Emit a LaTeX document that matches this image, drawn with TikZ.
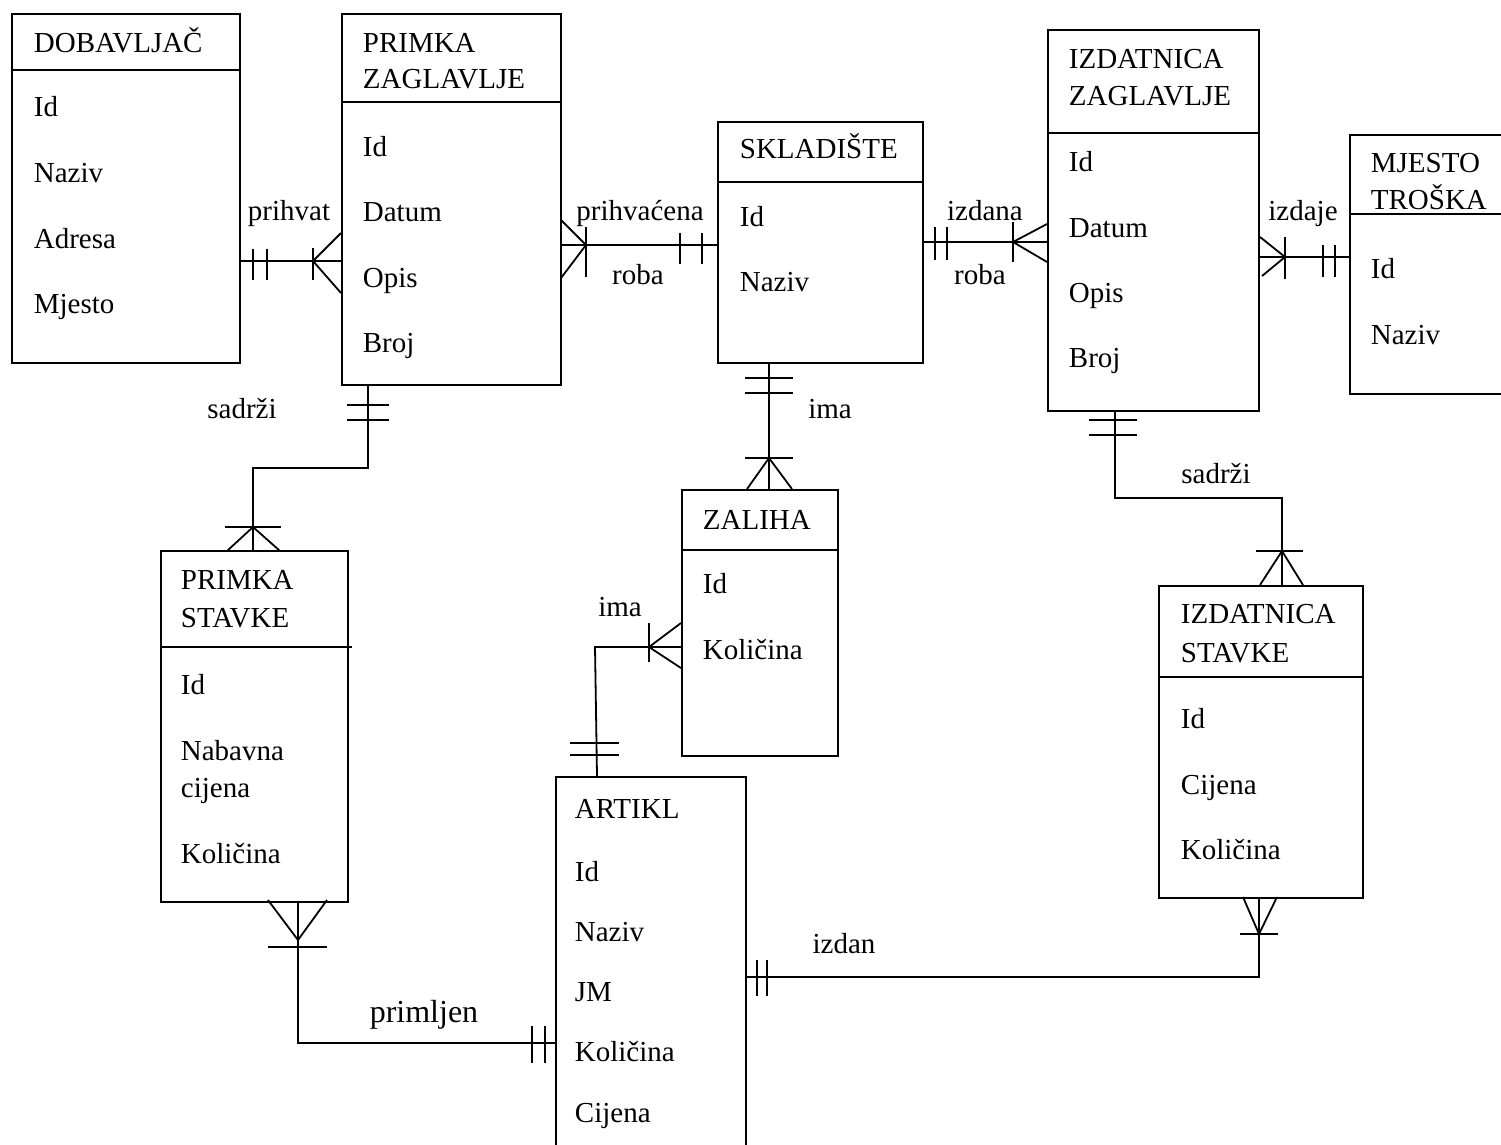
\documentclass[tikz,border=0pt]{standalone}
\usepackage{fontspec}
\setmainfont{Liberation Serif}
\begin{document}
\begin{tikzpicture}[x=1pt,y=-1pt,line width=1.8pt]
\tikzset{
 ent/.style={draw, inner sep=0pt, anchor=north west, line width=1.8pt},
 lab/.style={anchor=base west, inner sep=0pt, font=\fontsize{29}{35}\selectfont},
 rel/.style={anchor=base, inner sep=0pt, font=\fontsize{29}{35}\selectfont},
}
\useasboundingbox (0,0) rectangle (1501,1144);
\fill[white] (0,0) rectangle (1501,1144);
\clip (0,0) rectangle (1501,1144);

% entities
\node[ent, minimum width=228pt, minimum height=349pt] (dob) at (11,13) {};
\node[ent, minimum width=219pt, minimum height=371pt] (pz) at (341,13) {};
\node[ent, minimum width=205pt, minimum height=241pt] (skl) at (717,121) {};
\node[ent, minimum width=211pt, minimum height=381pt] (iz) at (1047,29) {};
\node[ent, minimum width=220pt, minimum height=259pt] (mt) at (1349,134) {};
\node[ent, minimum width=156pt, minimum height=266pt] (zal) at (681,489) {};
\node[ent, minimum width=187pt, minimum height=351pt] (ps) at (160,550) {};
\node[ent, minimum width=190pt, minimum height=420pt] (art) at (555,776) {};
\node[ent, minimum width=204pt, minimum height=312pt] (is) at (1158,585) {};

% header lines
\draw (dob.west |- 0,70) -- (dob.east |- 0,70);
\draw (pz.west |- 0,102) -- (pz.east |- 0,102);
\draw (skl.west |- 0,182) -- (skl.east |- 0,182);
\draw (iz.west |- 0,133) -- (iz.east |- 0,133);
\draw (mt.west |- 0,214) -- (mt.east |- 0,214);
\draw (zal.west |- 0,550) -- (zal.east |- 0,550);
\draw (ps.west |- 0,647) -- (352,647);
\draw (is.west |- 0,677) -- (is.east |- 0,677);

% texts
\node[lab] (dob0) at (33,52) {DOBAVLJAČ};
\node[lab] (dob1) at (33,116) {Id};
\node[lab] (dob2) at (33,182) {Naziv};
\node[lab] (dob3) at (33,248) {Adresa};
\node[lab] (dob4) at (33,313) {Mjesto};

\node[lab] (pz0) at (362,52) {PRIMKA};
\node[lab] (pz0b) at (362,88) {ZAGLAVLJE};
\node[lab] (pz1) at (362,156) {Id};
\node[lab] (pz2) at (362,221) {Datum};
\node[lab] (pz3) at (362,287) {Opis};
\node[lab] (pz4) at (362,352) {Broj};

\node[lab] (skl0) at (739,158) {SKLADIŠTE};
\node[lab] (skl1) at (739,226) {Id};
\node[lab] (skl2) at (739,291) {Naziv};

\node[lab] (iz0) at (1068,68) {IZDATNICA};
\node[lab] (iz0b) at (1068,105) {ZAGLAVLJE};
\node[lab] (iz1) at (1068,171) {Id};
\node[lab] (iz2) at (1068,237) {Datum};
\node[lab] (iz3) at (1068,302) {Opis};
\node[lab] (iz4) at (1068,367) {Broj};

\node[lab] (mt0) at (1370,172) {MJESTO};
\node[lab] (mt0b) at (1370,209) {TROŠKA};
\node[lab] (mt1) at (1370,278) {Id};
\node[lab] (mt2) at (1370,344) {Naziv};

\node[lab] (zal0) at (702,529) {ZALIHA};
\node[lab] (zal1) at (702,593) {Id};
\node[lab] (zal2) at (702,659) {Količina};

\node[lab] (ps0) at (180,589) {PRIMKA};
\node[lab] (ps0b) at (180,627) {STAVKE};
\node[lab] (ps1) at (180,694) {Id};
\node[lab] (ps2) at (180,760) {Nabavna};
\node[lab] (ps2b) at (180,797) {cijena};
\node[lab] (ps3) at (180,863) {Količina};

\node[lab] (art0) at (574,818) {ARTIKL};
\node[lab] (art1) at (574,881) {Id};
\node[lab] (art2) at (574,941) {Naziv};
\node[lab] (art3) at (574,1001) {JM};
\node[lab] (art4) at (574,1061) {Količina};
\node[lab] (art5) at (574,1122) {Cijena};

\node[lab] (is0) at (1180,623) {IZDATNICA};
\node[lab] (is0b) at (1180,662) {STAVKE};
\node[lab] (is1) at (1180,728) {Id};
\node[lab] (is2) at (1180,794) {Cijena};
\node[lab] (is3) at (1180,859) {Količina};

% relationship labels
\node[rel] (r1) at (289,220) {prihvat};
\node[rel] (r2) at (640,220) {prihvaćena};
\node[rel] (r2b) at (638,284) {roba};
\node[rel] (r3) at (985,220) {izdana};
\node[rel] (r3b) at (980,284) {roba};
\node[rel] (r4) at (1303,220) {izdaje};
\node[rel] (r5) at (242,418) {sadrži};
\node[rel] (r6) at (830,418) {ima};
\node[rel] (r7) at (620,616) {ima};
\node[rel] (r8) at (1216,483) {sadrži};
\node[rel, font=\fontsize{32}{38}\selectfont] (r9) at (424,1022) {primljen};
\node[rel] (r10) at (844,953) {izdan};

% C1 dobavljac - primka zaglavlje
\draw (dob.east |- 0,261) -- (pz.west |- 0,261);
\draw (253,249) -- (253,280) (267,249) -- (267,280);
\draw (313,248) -- (313,280);
\draw (341,233) -- (313,261) -- (341,293);

% C2 primka zaglavlje - skladiste
\draw (pz.east |- 0,245) -- (skl.west |- 0,245);
\draw (561,220) -- (586,245) -- (561,278);
\draw (586,227) -- (586,277);
\draw (680,233) -- (680,264) (702,233) -- (702,264);

% C3 skladiste - izdatnica zaglavlje
\draw (skl.east |- 0,242) -- (iz.west |- 0,242);
\draw (935,227) -- (935,260) (947,227) -- (947,260);
\draw (1013,222) -- (1013,262);
\draw (1047,224) -- (1013,242) -- (1047,262);

% C4 izdatnica zaglavlje - mjesto troska
\draw (iz.east |- 0,257) -- (mt.west |- 0,257);
\draw (1260,237) -- (1285,257) -- (1262,276);
\draw (1285,237) -- (1285,279);
\draw (1323,245) -- (1323,277) (1335,245) -- (1335,277);

% C5 primka zaglavlje - primka stavke
\draw (pz.south -| 368,0) -- (368,468) -- (253,468) -- (ps.north -| 253,0);
\draw (347,405) -- (389,405) (347,420) -- (389,420);
\draw (225,527) -- (281,527);
\draw (227,551) -- (253,527) -- (280,551);

% C6 skladiste - zaliha
\draw (skl.south -| 769,0) -- (zal.north -| 769,0);
\draw (745,378) -- (793,378) (745,393) -- (793,393);
\draw (745,458) -- (793,458);
\draw (747,489) -- (769,458) -- (792,489);

% C7 artikl - zaliha
\draw (art.north -| 597,0) -- (595,647) -- (zal.west |- 0,647);
\draw (649,623) -- (649,662);
\draw (681,623) -- (649,647) -- (681,668);
\draw (570,743) -- (619,743) (570,755) -- (619,755);

% C8 izdatnica zaglavlje - izdatnica stavke
\draw (iz.south -| 1115,0) -- (1115,498) -- (1282,498) -- (is.north -| 1282,0);
\draw (1089,420) -- (1137,420) (1089,435) -- (1137,435);
\draw (1256,551) -- (1303,551);
\draw (1260,585) -- (1282,551) -- (1303,585);

% C9 primka stavke - artikl
\draw (ps.south -| 298,0) -- (298,1043) -- (art.west |- 0,1043);
\draw (268,900) -- (298,940) -- (327,900);
\draw (268,947) -- (327,947);
\draw (532,1026) -- (532,1063) (545,1026) -- (545,1063);

% C10 artikl - izdatnica stavke
\draw (art.east |- 0,977) -- (1259,977) -- (is.south -| 1259,0);
\draw (757,960) -- (757,996) (767,960) -- (767,996);
\draw (1240,934) -- (1278,934);
\draw (1243,897) -- (1259,934) -- (1277,897);
\end{tikzpicture}
\end{document}
